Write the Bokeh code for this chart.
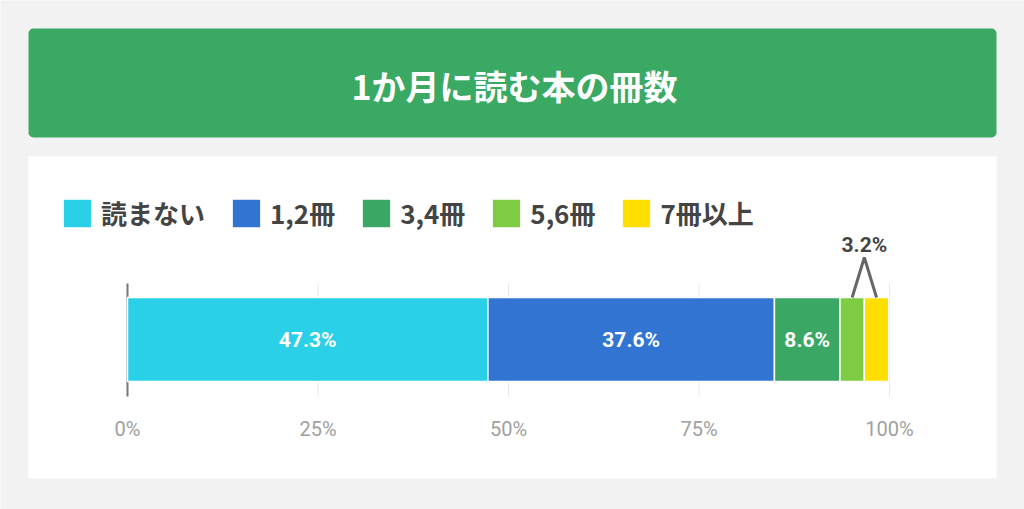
from bokeh.plotting import figure
from bokeh.models import Range1d, BoxAnnotation, Legend, LegendItem
from bokeh.core.properties import value
from bokeh.embed import file_html
from bokeh.resources import INLINE

# ---- data ----
TITLE = "1か月に読む本の冊数"
CATEGORIES = ["読まない", "1,2冊", "3,4冊", "5,6冊", "7冊以上"]
VALUES = [47.3, 37.6, 8.6, 3.2, 3.2]
COLORS = ["#29d0e8", "#3274d2", "#3aa864", "#7dcc44", "#ffde00"]
TICKS = [0, 25, 50, 75, 100]
TICK_LABELS = ["0%", "25%", "50%", "75%", "100%"]

# ---- layout (page pixel geometry) ----
W, H = 1024, 509
X0, X100 = 127.0, 889.0          # page x of 0% and 100%
S = (X100 - X0) / 100.0


def dx(px):
    return (px - X0) / S


JP = "Noto Sans CJK JP"
BAR_Y, BAR_H = 339, 84
GRID_TOP, GRID_BOTTOM = 283, 396

p = figure(width=W, height=H, output_backend="svg", toolbar_location=None,
           x_range=Range1d(dx(0), dx(W)), y_range=Range1d(H, 0),
           min_border=0, min_border_left=0, min_border_right=0,
           min_border_top=0, min_border_bottom=0)
p.xaxis.visible = False
p.yaxis.visible = False
p.xgrid.visible = False
p.ygrid.visible = False
p.outline_line_color = None
p.background_fill_color = "#f2f2f2"
p.border_fill_color = "#f2f2f2"

# panels
p.add_layout(BoxAnnotation(left=dx(28), right=dx(996), top=28, bottom=137,
                           fill_color="#3aa964", fill_alpha=1, line_alpha=0,
                           border_radius=5, level="underlay"))
p.add_layout(BoxAnnotation(left=dx(28), right=dx(996), top=156, bottom=478,
                           fill_color="#ffffff", fill_alpha=1, line_alpha=0,
                           level="underlay"))

# title
p.text(x=[dx(514)], y=[85], text=[TITLE], text_align="center",
       text_baseline="middle", text_color="#ffffff",
       text_font=value(JP), text_font_style="bold", text_font_size="34px")

# grid lines and zero axis line
grid_x = [t for t in TICKS if t != 0]
p.segment(x0=grid_x, x1=grid_x, y0=[GRID_TOP] * len(grid_x),
          y1=[GRID_BOTTOM] * len(grid_x), line_color="#e8e8e8", line_width=1)
p.segment(x0=[0], x1=[0], y0=[GRID_TOP], y1=[GRID_BOTTOM],
          line_color="#777777", line_width=2)

# stacked bar
lefts, rights = [], []
acc = 0.0
for v in VALUES:
    lefts.append(acc)
    acc += v
    rights.append(acc)

items = []
for cat, l, r, c in zip(CATEGORIES, lefts, rights, COLORS):
    rr = p.hbar(y=[BAR_Y], left=[l], right=[r], height=BAR_H,
                fill_color=c, line_color="#ffffff", line_width=1.5)
    items.append(LegendItem(label=cat, renderers=[rr]))

# inside labels for big segments
big = [i for i, v in enumerate(VALUES) if v >= 5]
p.text(x=[(lefts[i] + rights[i]) / 2 for i in big], y=[BAR_Y] * len(big),
       text=[f"{VALUES[i]}%" for i in big], text_align="center",
       text_baseline="middle", text_color="#ffffff",
       text_font=value("Roboto"), text_font_style="bold", text_font_size="21px")

# callout for small segments
small = [i for i, v in enumerate(VALUES) if v < 5]
cx = [(lefts[i] + rights[i]) / 2 for i in small]
apex = sum(cx) / len(cx)
top_bar = BAR_Y - BAR_H / 2
p.line(x=[cx[0], apex, cx[-1]], y=[top_bar, 257, top_bar],
       line_color="#666666", line_width=3)
p.text(x=[apex], y=[244], text=[f"{VALUES[small[0]]}%"], text_align="center",
       text_baseline="middle", text_color="#444444",
       text_font=value("Roboto"), text_font_style="bold", text_font_size="21px")

# tick labels
p.text(x=TICKS, y=[428] * len(TICKS), text=TICK_LABELS, text_align="center",
       text_baseline="middle", text_color="#a0a0a0",
       text_font=value("Roboto"), text_font_size="20px")

# legend (legend swatches are inset 10% inside the glyph box)
legend = Legend(items=items, orientation="horizontal", location=(59, 278),
                glyph_width=36, glyph_height=36, label_standoff=6, spacing=23,
                padding=0, margin=0, background_fill_alpha=0,
                border_line_alpha=0, label_text_font=JP,
                label_text_font_style="bold", label_text_font_size="26px",
                label_text_color="#444444", label_text_baseline="middle")
p.add_layout(legend)

open("out.html", "w").write(file_html(p, INLINE))
